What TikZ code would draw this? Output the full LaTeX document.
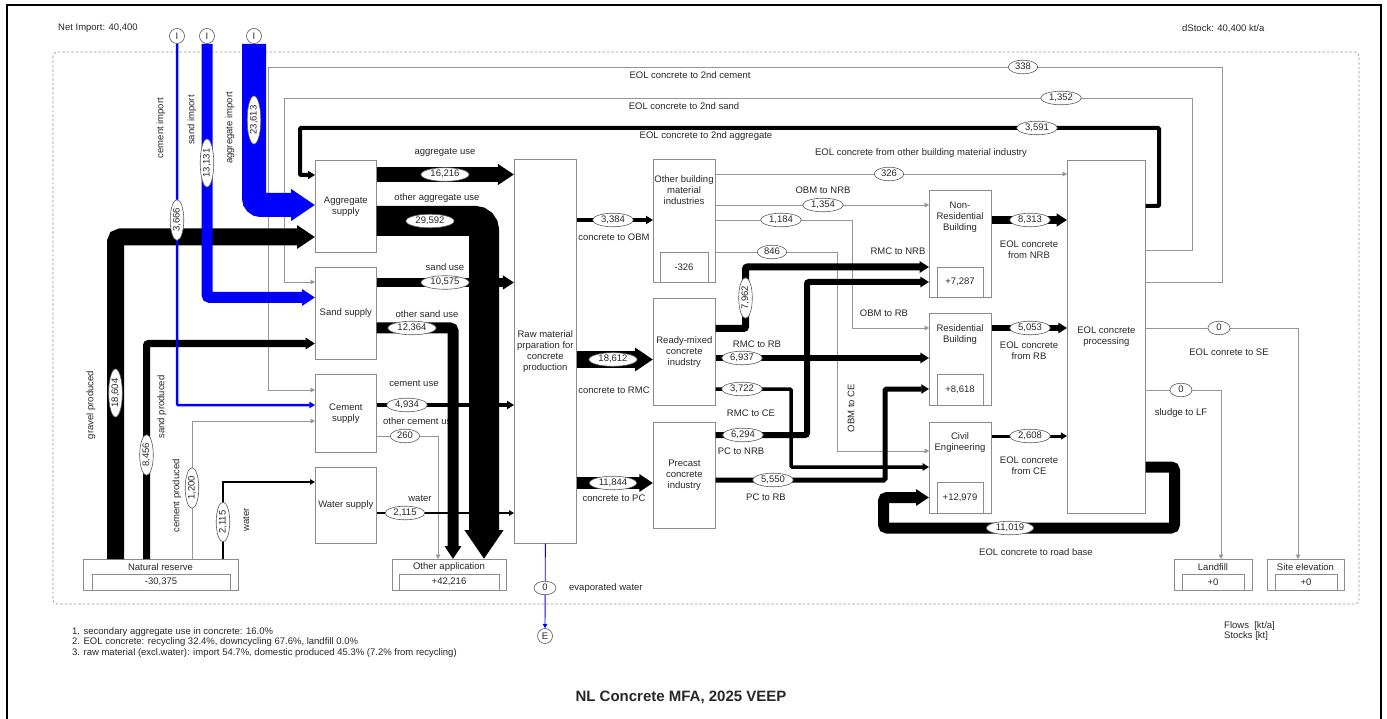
\documentclass[tikz,border=0pt]{standalone}
\usepackage{fontspec}
\setmainfont{Liberation Sans}
\usetikzlibrary{arrows.meta,shapes.geometric}
\definecolor{fblue}{RGB}{0,0,255}
\definecolor{lgray}{RGB}{150,150,150}
\definecolor{bgray}{RGB}{140,140,140}
\definecolor{egray}{RGB}{90,90,90}
\definecolor{tcol}{RGB}{40,40,40}
\newcommand{\mf}{\fontsize{9.5}{11}\selectfont}
\begin{document}
\begin{tikzpicture}[x=1pt,y=-1pt,
  box/.style={draw=bgray, line width=0.7pt, fill=white, inner sep=0pt, anchor=north west, align=center, font=\mf, text=tcol},
  stockbox/.style={draw=bgray, line width=0.7pt},
  txt/.style={inner sep=0pt, font=\mf, align=center, text=tcol},
  lab/.style={ellipse, draw=egray, fill=white, line width=0.6pt, inner xsep=2.5pt, inner ysep=0.8pt, minimum width=22pt, text height=6.5pt, text depth=1.5pt, font=\mf, text=tcol},
  circ/.style={circle, draw=egray, fill=white, line width=0.6pt, minimum size=15pt, inner sep=0pt, font=\mf, text=tcol},
  flow/.style={line width=#1, -{Triangle[length=3.5pt 0.85, width=3.5pt 1.12]}},
  gline/.style={flow=0.9pt, lgray},
]
\useasboundingbox (0,0) rectangle (1387,719);
\fill[white] (0,0) rectangle (1387,719);
% frame and boundary
\draw[line width=1.8pt] (7,5) rectangle (1381,730);
\draw[lgray, dashed, dash pattern=on 2.5pt off 2pt, line width=0.7pt, rounded corners=4pt] (53,52) rectangle (1359,604);

% ---------- plain texts ----------
\node[txt, anchor=west] (netimp) at (58,28) {Net Import: 40,400};
\node[txt, anchor=west] (dstock) at (1182,29) {dStock: 40,400 kt/a};
\node[txt, rotate=90] at (161,128) {cement import};
\node[txt, rotate=90] at (192,120) {sand import};
\node[txt, rotate=90] at (230,128) {aggregate import};
\node[txt, rotate=90] at (91,405) {gravel produced};
\node[txt, rotate=90] at (162,407) {sand produced};
\node[txt, rotate=90] at (177,496) {cement produced};
\node[txt, rotate=90] at (246,520) {water};
\node[txt] at (690,75) {EOL concrete to 2nd cement};
\node[txt] at (684,106) {EOL concrete to 2nd sand};
\node[txt] at (706,136) {EOL concrete to 2nd aggregate};
\node[txt] at (921,153) {EOL concrete from other building material industry};
\node[txt] at (445,152) {aggregate use};
\node[txt] at (437,198) {other aggregate use};
\node[txt] at (445,267) {sand use};
\node[txt] at (427,314) {other sand use};
\node[txt] at (414,383) {cement use};
\node[txt, anchor=west] at (383,421) {other cement use};
\node[txt] at (420,498) {water};
\node[txt] at (614,237) {concrete to OBM};
\node[txt] at (614,390) {concrete to RMC};
\node[txt] at (614,498) {concrete to PC};
\node[txt, anchor=west] at (569,588) {evaporated water};
\node[txt] at (823,190) {OBM to NRB};
\node[txt] at (898,251) {RMC to NRB};
\node[txt] at (884,313) {OBM to RB};
\node[txt] at (757,344) {RMC to RB};
\node[txt] at (751,413) {RMC to CE};
\node[txt] at (741,451) {PC to NRB};
\node[txt] at (766,497) {PC to RB};
\node[txt, rotate=90] at (851,408) {OBM to CE};
\node[txt] at (1029,250) {EOL concrete\\from NRB};
\node[txt] at (1029,351) {EOL concrete\\from RB};
\node[txt] at (1029,466) {EOL concrete\\from CE};
\node[txt] at (1036,552) {EOL concrete to road base};
\node[txt] at (1229,352) {EOL conrete to SE};
\node[txt] at (1181,413) {sludge to LF};
\node[txt, anchor=west] at (72,632) {1. secondary aggregate use in concrete: 16.0\%};
\node[txt, anchor=west] at (72,642.5) {2. EOL concrete: recycling 32.4\%, downcycling 67.6\%, landfill 0.0\%};
\node[txt, anchor=west] at (72,653) {3. raw material (excl.water): import 54.7\%, domestic produced 45.3\% (7.2\% from recycling)};
\node[txt, anchor=west] at (1224,626) {Flows~~[kt/a]};
\node[txt, anchor=west] at (1224,636.5) {Stocks [kt]};
\node[inner sep=0pt, font=\fontsize{15}{17}\selectfont\bfseries, text=tcol] (title) at (681,697) {NL Concrete MFA, 2025 VEEP};

% ---------- boxes ----------
\node[box, minimum width=61pt, minimum height=92pt] (aggsup) at (315,160) {Aggregate\\supply};
\node[box, minimum width=61pt, minimum height=92pt] (sandsup) at (315,267) {Sand supply};
\node[box, minimum width=61pt, minimum height=78pt] (cemsup) at (315,374) {Cement\\supply};
\node[box, minimum width=61pt, minimum height=76pt] (watsup) at (315,467) {Water supply};
\node[box, minimum width=62pt, minimum height=384pt] (raw) at (514,159) {Raw material\\prparation for\\concrete\\production};
\node[box, minimum width=62pt, minimum height=123pt] (obm) at (653,159) {};
\node[box, minimum width=62pt, minimum height=107pt] (rmc) at (653,298) {Ready-mixed\\concrete\\inudstry};
\node[box, minimum width=62pt, minimum height=106pt] (pc) at (653,422) {Precast\\concrete\\industry};
\node[box, minimum width=62pt, minimum height=107pt] (nrb) at (929,190) {};
\node[box, minimum width=62pt, minimum height=92pt] (rb) at (929,313) {};
\node[box, minimum width=62pt, minimum height=91pt] (ce) at (929,422) {};
\node[box, minimum width=78pt, minimum height=353pt] (eol) at (1067,160) {EOL concrete\\processing};
\node[box, minimum width=155pt, minimum height=31pt] (natres) at (83,559) {};
\node[box, minimum width=114pt, minimum height=31pt] (otherapp) at (392,559) {};
\node[box, minimum width=78pt, minimum height=31pt] (landfill) at (1174,559) {};
\node[box, minimum width=77pt, minimum height=31pt] (siteel) at (1267,559) {};

\node[txt] at (684,190) {Other building\\material\\industries};
\node[txt] at (960,217) {Non-\\Residential\\Building};
\node[txt] at (960,335) {Residential\\Building};
\node[txt] at (960,443) {Civil\\Engineering};
\node[txt] at (160.5,567) {Natural reserve};
\node[txt] at (449,567) {Other application};
\node[txt] at (1213,567) {Landfill};
\node[txt] at (1305.5,567) {Site elevation};

\draw[stockbox] (660,252) rectangle (708,282);
\node[txt] at (684,267) {-326};
\draw[stockbox] (937,267) rectangle (983,297);
\node[txt] at (960,282) {+7,287};
\draw[stockbox] (937,374) rectangle (983,405);
\node[txt] at (960,389.5) {+8,618};
\draw[stockbox] (937,482) rectangle (983,513);
\node[txt] at (960,497.5) {+12,979};
\draw[stockbox] (92,574) rectangle (230,590);
\node[txt] at (161,582) {-30,375};
\draw[stockbox] (399,574) rectangle (499,590);
\node[txt] at (449,582) {+42,216};
\draw[stockbox] (1182,574) rectangle (1244,590);
\node[txt] at (1213,582) {+0};
\draw[stockbox] (1275,574) rectangle (1337,590);
\node[txt] at (1306,582) {+0};

% ---------- import / export circles ----------
\node[circ] (Icem) at (177,36) {I};
\node[circ] (Isand) at (207,36) {I};
\node[circ] (Iagg) at (254,36) {I};
\node[circ] (Eevap) at (545,636) {E};

% ---------- grey flows ----------
\draw[gline] (eol.east |- 0,282) -- (1222,282) -- (1222,67) -- (268,67) -- (268,390) -- (cemsup.west |- 0,390);
\draw[gline] (eol.east |- 0,250) -- (1192,250) -- (1192,98) -- (284,98) -- (284,282) -- (sandsup.west |- 0,282);
\draw[gline] (natres.north -| 192,0) -- (192,421) -- (cemsup.west |- 0,421);
\draw[gline] (cemsup.east |- 0,436) -- (438,436) -- (otherapp.north -| 438,0);
\draw[gline] (obm.east |- 0,174) -- (eol.west |- 0,174);
\draw[gline] (obm.east |- 0,205) -- (nrb.west |- 0,205);
\draw[gline] (obm.east |- 0,220) -- (852,220) -- (852,328) -- (rb.west |- 0,328);
\draw[gline] (obm.east |- 0,252) -- (837,252) -- (837,451) -- (ce.west |- 0,451);
\draw[gline] (eol.east |- 0,328) -- (1298,328) -- (siteel.north -| 1298,0);
\draw[gline] (eol.east |- 0,390) -- (1221,390) -- (landfill.north -| 1221,0);

% ---------- black flows ----------
\draw[flow=17pt, rounded corners=5pt] (natres.north -| 115.5,0) -- (115.5,237) -- (aggsup.west |- 0,237);
\draw[flow=7pt, rounded corners=2pt] (natres.north -| 146.5,0) -- (146.5,343.5) -- (sandsup.west |- 0,343.5);
\draw[flow=1.6pt] (natres.north -| 223,0) -- (223,482) -- (watsup.west |- 0,482);
\draw[flow=4pt, rounded corners=1pt] (eol.east |- 0,206) -- (1159,206) -- (1159,128) -- (300,128) -- (300,175) -- (aggsup.west |- 0,175);
\draw[flow=15pt] (aggsup.east |- 0,174.5) -- (raw.west |- 0,174.5);
\draw[flow=30pt, rounded corners=9pt] (aggsup.east |- 0,221) -- (484,221) -- (otherapp.north -| 484,0);
\draw[flow=9pt] (sandsup.east |- 0,282.5) -- (raw.west |- 0,282.5);
\draw[flow=11pt, rounded corners=3pt] (sandsup.east |- 0,328) -- (453,328) -- (otherapp.north -| 453,0);
\draw[flow=4pt] (cemsup.east |- 0,405) -- (raw.west |- 0,405);
\draw[flow=1.6pt] (watsup.east |- 0,513) -- (raw.west |- 0,513);
\draw[flow=4pt] (raw.east |- 0,220) -- (obm.west |- 0,220);
\draw[flow=17pt] (raw.east |- 0,359.5) -- (rmc.west |- 0,359.5);
\draw[flow=12pt] (raw.east |- 0,483) -- (pc.west |- 0,483);
\draw[flow=7pt, rounded corners=2pt] (rmc.east |- 0,328.5) -- (745.5,328.5) -- (745.5,267) -- (nrb.west |- 0,267);
\draw[flow=6pt, rounded corners=2pt] (pc.east |- 0,435) -- (807,435) -- (807,282) -- (nrb.west |- 0,282);
\draw[flow=6pt] (rmc.east |- 0,358) -- (rb.west |- 0,358);
\draw[flow=3.5pt, rounded corners=1pt] (rmc.east |- 0,389) -- (791,389) -- (791,467) -- (ce.west |- 0,467);
\draw[flow=5pt, rounded corners=1.5pt] (pc.east |- 0,480) -- (885,480) -- (885,389) -- (rb.west |- 0,389);
\draw[flow=8pt] (nrb.east |- 0,220) -- (eol.west |- 0,220);
\draw[flow=6pt] (rb.east |- 0,328) -- (eol.west |- 0,328);
\draw[flow=3pt] (ce.east |- 0,436) -- (eol.west |- 0,436);
\draw[flow=11pt, rounded corners=3.5pt] (eol.east |- 0,467) -- (1174.5,467) -- (1174.5,528) -- (883.5,528) -- (883.5,497.5) -- (ce.west |- 0,497.5);

% ---------- blue flows ----------
\draw[flow=24pt, fblue, rounded corners=7pt] (Iagg.south) -- (254,205) -- (aggsup.west |- 0,205);
\draw[flow=11pt, fblue, rounded corners=3pt] (Isand.south) -- (207,297.5) -- (sandsup.west |- 0,297.5);
\draw[flow=2.5pt, fblue, rounded corners=1pt] (Icem.south) -- (177,405) -- (cemsup.west |- 0,405);
\draw[flow=0.9pt, fblue] (raw.south) -- (Eevap.north);

% ---------- value labels ----------
\node[lab, rotate=90] at (254,120) {23,613};
\node[lab, rotate=90] at (207,163) {13,131};
\node[lab, rotate=90] at (177,220) {3,666};
\node[lab, rotate=90] at (115.5,393) {18,604};
\node[lab, rotate=90] at (146.5,455) {8,456};
\node[lab, rotate=90] at (192,488) {1,200};
\node[lab, rotate=90] at (223,522) {2,115};
\node[lab] at (1023,67) {338};
\node[lab] at (1061,98) {1,352};
\node[lab] at (1037,128) {3,591};
\node[lab] at (445,174.5) {16,216};
\node[lab] at (430,221) {29,592};
\node[lab] at (445,282.5) {10,575};
\node[lab] at (412,328) {12,364};
\node[lab] at (407,405) {4,934};
\node[lab] at (405,436) {260};
\node[lab] at (405,513) {2,115};
\node[lab] at (545,588) {0};
\node[lab] at (613,220) {3,384};
\node[lab] at (613,359.5) {18,612};
\node[lab] at (613,483) {11,844};
\node[lab] at (889,174) {326};
\node[lab] at (823,205) {1,354};
\node[lab] at (781,220) {1,184};
\node[lab] at (772,252) {846};
\node[lab, rotate=90] at (745.5,298) {7,962};
\node[lab] at (743,435) {6,294};
\node[lab] at (742,358) {6,937};
\node[lab] at (742,389) {3,722};
\node[lab] at (773,480) {5,550};
\node[lab] at (1030,220) {8,313};
\node[lab] at (1030,328) {5,053};
\node[lab] at (1030,436) {2,608};
\node[lab] at (1010,528) {11,019};
\node[lab] at (1219,328) {0};
\node[lab] at (1181,390) {0};
\end{tikzpicture}
\end{document}
